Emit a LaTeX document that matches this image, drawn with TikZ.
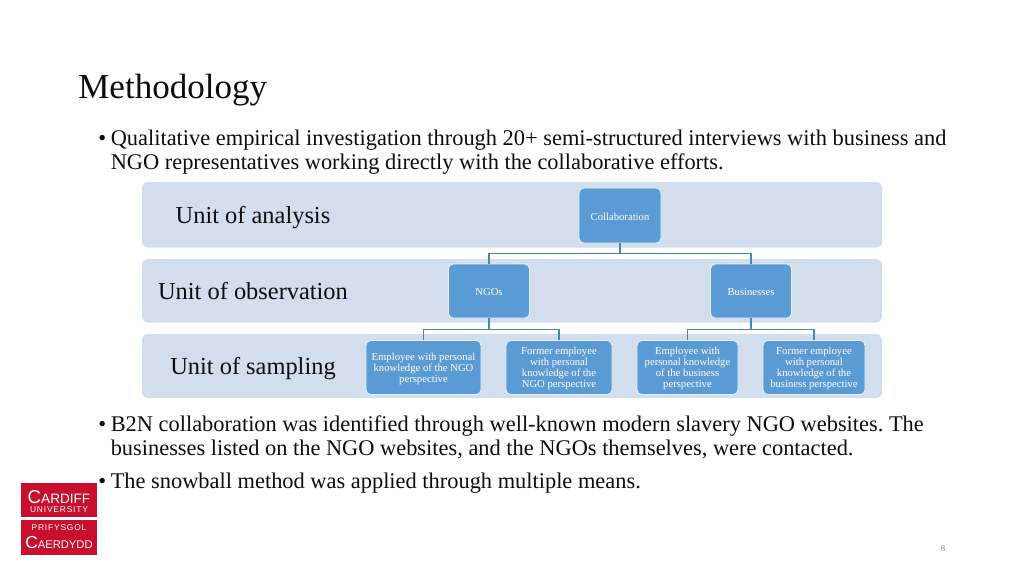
\documentclass[tikz,border=0pt]{standalone}
\usepackage{fontspec}
\setmainfont{Liberation Serif}
\newfontfamily\logofont[LetterSpace=10]{Liberation Sans}
\newfontfamily\logobig{Liberation Sans}
\definecolor{bandc}{HTML}{D2DEEE}
\definecolor{boxc}{HTML}{5B9BD5}
\definecolor{linec}{HTML}{4A86B5}
\definecolor{logoc}{HTML}{C8102E}
\definecolor{inkc}{HTML}{0D0D0D}
\tikzset{
  x=0.75pt,y=-0.75pt,
  band/.style={fill=bandc,rounded corners=4.5pt,draw=none},
  box/.style={fill=boxc,draw=white!85!boxc,line width=0.7pt,rounded corners=3.5pt,text=white,font=\fontsize{8}{8.25}\selectfont,align=center,inner sep=0pt},
  conn/.style={draw=linec,line width=1pt},
  bandlabel/.style={font=\fontsize{18.3}{21}\selectfont,text=inkc,anchor=center},
  bodytext/.style={font=\frenchspacing\fontsize{16.8}{18}\selectfont,text=inkc,anchor=base west,inner sep=0pt},
  logotext/.style={text=white,anchor=center,inner sep=0pt}
}
\newcommand{\boxat}[6]{\node[box,minimum width=#4*0.75pt,minimum height=#5*0.75pt] (#1) at (#2,#3) {\rule{0pt}{7pt}#6};}
\begin{document}
\begin{tikzpicture}
\useasboundingbox (0,0) rectangle (1024,576);
\fill[white] (0,0) rectangle (1024,576);
\node[font=\fontsize{26.3}{30}\selectfont,text=inkc,anchor=base west,inner sep=0pt] (title) at (78,98) {Methodology};
\node[bodytext] (b1) at (98,145) {•};
\node[bodytext] (t1) at (110.5,145) {Qualitative empirical investigation through 20+ semi-structured interviews with business and};
\node[bodytext] (t2) at (110.5,169.5) {NGO representatives working directly with the collaborative efforts.};
\fill[band] (142,182) rectangle (882,247.5);
\fill[band] (142,259) rectangle (882,322.5);
\fill[band] (142,334) rectangle (882,398);
\node[bandlabel] (l1) at (253,217.5) {Unit of analysis};
\node[bandlabel] (l2) at (253,291.5) {Unit of observation};
\node[bandlabel] (l3) at (253,368.5) {Unit of sampling};
\boxat{c}{620}{215.5}{82}{55}{Collaboration}
\boxat{n}{489}{291}{81}{54}{NGOs}
\boxat{bz}{751}{291}{81}{54}{Businesses}
\boxat{n1}{423.5}{367.5}{115}{54}{Employee with personal\\knowledge of the NGO\\perspective}
\boxat{n2}{559}{367.5}{106}{54}{Former employee\\with personal\\knowledge of the\\NGO perspective}
\boxat{b1x}{687.5}{367.5}{101}{54}{Employee with\\personal knowledge\\of the business\\perspective}
\boxat{b2x}{814}{367.5}{102}{54}{Former employee\\with personal\\knowledge of the\\business perspective}
\draw[conn] (c.south) -- ++(0,10) -| (n.north);
\draw[conn] (c.south) -- ++(0,10) -| (bz.north);
\draw[conn] (n.south) -- ++(0,11) -| (n1.north);
\draw[conn] (n.south) -- ++(0,11) -| (n2.north);
\draw[conn] (bz.south) -- ++(0,11) -| (b1x.north);
\draw[conn] (bz.south) -- ++(0,11) -| (b2x.north);
\node[bodytext] (b2) at (98,431) {•};
\node[bodytext] (t3) at (110.5,431) {B2N collaboration was identified through well-known modern slavery NGO websites. The};
\node[bodytext] (t4) at (110.5,455) {businesses listed on the NGO websites, and the NGOs themselves, were contacted.};
\node[bodytext] (b3) at (98,488) {•};
\node[bodytext] (t5) at (110.5,488) {The snowball method was applied through multiple means.};
\fill[logoc] (21,483) rectangle (97,517);
\fill[logoc] (21,519.5) rectangle (97,555);
\node[logotext,font=\logobig\fontsize{10.2}{14}\selectfont] (lg1) at (59,497) {{\fontsize{14}{14}\selectfont C}ARDIFF};
\node[logotext,font=\logofont\fontsize{6.3}{7}\selectfont] (lg2) at (59,510) {UNIVERSITY};
\node[logotext,font=\logofont\fontsize{6.3}{7}\selectfont] (lg3) at (59,528) {PRIFYSGOL};
\node[logotext,font=\logobig\fontsize{8.4}{14}\selectfont] (lg4) at (59,543) {{\fontsize{13}{14}\selectfont C}AERDYDD};
\node[font=\fontsize{6.5}{7}\selectfont,text=black!50] (pg) at (943,549) {8};
\end{tikzpicture}
\end{document}
